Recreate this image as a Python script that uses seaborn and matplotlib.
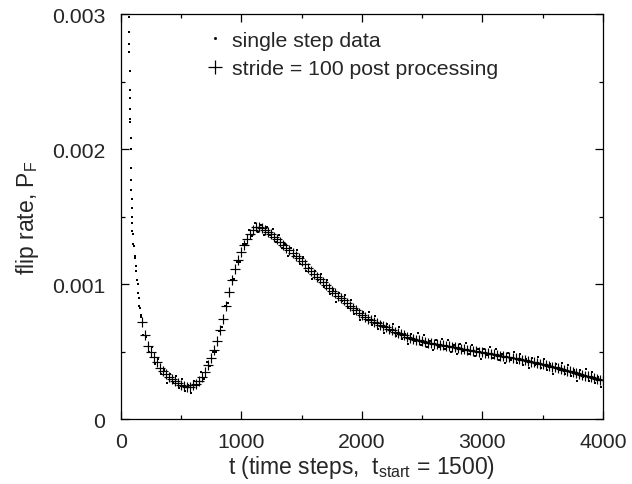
import numpy as np
import pandas as pd
import matplotlib
matplotlib.use("Agg")
import matplotlib.pyplot as plt
from matplotlib.lines import Line2D
import seaborn as sns

# flip rate values are written in units of 1e-4

# stride = 100 post processing, read every 25 steps
t_stride = list(range(175, 4001, 25))
pf_stride = [
    7.2, 6.2, 5.4, 4.95, 4.6, 4.2, 3.8,
    3.55, 3.3, 3.1, 2.95, 2.8, 2.65, 2.55, 2.45, 2.4, 2.4,
    2.5, 2.6, 2.8, 3.1, 3.5, 4.0, 4.5, 5.1, 5.8, 6.6,
    7.4, 8.4, 9.4, 10.3, 11.1, 11.8, 12.4, 12.9, 13.3, 13.7,
    14.0, 14.2, 14.2, 14.15, 14.0, 13.85, 13.7, 13.5, 13.3, 13.1,
    12.9, 12.7, 12.5, 12.3, 12.1, 11.9, 11.7, 11.45, 11.2, 10.95,
    10.75, 10.55, 10.35, 10.15, 9.95, 9.7, 9.5, 9.3, 9.1, 8.95,
    8.8, 8.6, 8.4, 8.25, 8.05, 7.85, 7.70, 7.57, 7.44, 7.32,
    7.20, 7.09, 6.98, 6.88, 6.78, 6.68, 6.58, 6.48, 6.38, 6.28,
    6.19, 6.10, 6.02, 5.95, 5.88, 5.82, 5.76, 5.71, 5.66, 5.61,
    5.57, 5.53, 5.49, 5.45, 5.42, 5.38, 5.34, 5.30, 5.26, 5.22,
    5.18, 5.14, 5.10, 5.06, 5.02, 4.98, 4.94, 4.90, 4.86, 4.82,
    4.78, 4.74, 4.70, 4.66, 4.62, 4.58, 4.53, 4.49, 4.44, 4.40,
    4.35, 4.30, 4.25, 4.20, 4.15, 4.10, 4.04, 3.99, 3.93, 3.88,
    3.82, 3.76, 3.70, 3.64, 3.58, 3.52, 3.46, 3.40, 3.34, 3.28,
    3.22, 3.16, 3.10, 3.04, 2.98, 2.92, 2.86,
]

# single step data: the sparse early points, then one dot between each stride point
t_single_early = [68, 70, 71, 72, 74, 76, 77, 78, 80, 81,
                  83, 84, 86, 88, 89, 90, 92, 94, 95, 97,
                  100, 105, 110, 115, 120, 125, 130, 135, 140, 145,
                  150, 155, 160, 165, 170]
pf_single_early = [29.8, 28.7, 27.8, 27.2, 25.8, 24.4, 23.8, 23.0, 22.2, 22.0,
                   20.8, 20.0, 18.6, 17.7, 17.0, 16.3, 15.6, 15.0, 14.5, 13.9,
                   13.7, 13.0, 12.8, 12.1, 11.9, 11.3, 11.0, 10.3, 10.0, 9.3,
                   9.0, 8.4, 8.2, 7.7, 7.55]
t_single_band = list(range(187, 4000, 25))
pf_single_band = [
    6.2, 6.1, 5.0, 5.3, 4.1, 4.45, 3.3,
    3.6, 2.7, 3.3, 2.7, 3.2, 2.3, 2.95, 2.1, 2.55, 1.95,
    2.85, 2.55, 3.45, 3.0, 4.2, 3.9, 4.95, 4.95, 6.5, 6.85,
    8.4, 8.6, 10.3, 10.35, 11.6, 11.6, 12.95, 12.95, 14.0, 13.55,
    14.55, 13.85, 14.35, 13.6, 14.25, 13.6, 14.1, 13.1, 13.65, 12.65,
    12.95, 12.1, 12.7, 12.05, 12.5, 11.5, 12.0, 11.0, 11.2, 10.35,
    10.95, 10.3, 10.75, 9.75, 10.3, 9.25, 9.55, 8.7, 9.3, 8.75,
    9.2, 8.2, 8.8, 7.8, 8.1, 7.3, 7.95, 7.35, 7.9, 6.95,
    7.6, 6.7, 7.1, 6.35, 7.05, 6.5, 7.05, 6.15, 6.8, 5.9,
    6.3, 5.55, 6.3, 5.75, 6.35, 5.5, 6.2, 5.35, 5.8, 5.1,
    5.85, 5.35, 5.95, 5.15, 5.85, 5.0, 5.45, 4.8, 5.55, 5.05,
    5.65, 4.8, 5.5, 4.7, 5.15, 4.45, 5.2, 4.75, 5.35, 4.5,
    5.2, 4.35, 4.85, 4.15, 4.9, 4.4, 5.0, 4.15, 4.85, 4.0,
    4.45, 3.75, 4.5, 4.0, 4.6, 3.75, 4.45, 3.6, 4.05, 3.35,
    4.1, 3.6, 4.15, 3.3, 4.0, 3.15, 3.6, 2.85, 3.6, 3.1,
    3.7, 2.85, 3.5, 2.65, 3.1, 2.4,
]

df_stride = pd.DataFrame({"t": t_stride, "pf": np.array(pf_stride) * 1e-4})
df_single = pd.DataFrame({"t": t_single_early + t_single_band,
                          "pf": np.array(pf_single_early + pf_single_band) * 1e-4})

sns.set_style("ticks")
plt.rcParams["font.family"] = ["Liberation Sans", "DejaVu Sans"]
plt.rcParams["mathtext.default"] = "regular"

fig = plt.figure(figsize=(6.32, 4.85), dpi=100)
ax = fig.add_axes([0.191, 0.134, 0.763, 0.835])

sns.scatterplot(data=df_stride, x="t", y="pf", marker="+", s=45, color="black",
                linewidth=0.85, ax=ax, legend=False)
sns.scatterplot(data=df_single, x="t", y="pf", marker="s", s=2.5, color="black",
                linewidth=0, ax=ax, legend=False)

ax.set_xlim(0, 4000)
ax.set_ylim(0, 0.003)
ax.set_xticks([0, 1000, 2000, 3000, 4000])
ax.set_xticks(np.arange(500, 4000, 1000), minor=True)
ax.set_yticks([0, 0.001, 0.002, 0.003])
ax.set_yticklabels(["0", "0.001", "0.002", "0.003"])
ax.set_yticks([0.0005, 0.0015, 0.0025], minor=True)
ax.tick_params(which="both", direction="in", top=True, right=True,
               labelsize=15.3, color="black", width=0.9)
ax.tick_params(which="major", length=6)
ax.tick_params(which="minor", length=3)
ax.tick_params(axis="x", which="major", pad=9)
ax.tick_params(axis="y", which="major", pad=11)
for s in ax.spines.values():
    s.set_color("black")
    s.set_linewidth(0.9)

ax.set_xlabel("t (time steps,  t$_{start}$ = 1500)", fontsize=16.5, labelpad=2)
ax.set_ylabel("flip rate, P$_F$", fontsize=16.5, labelpad=8)

handles = [
    Line2D([], [], marker="s", markersize=1.0, color="black", linestyle=""),
    Line2D([], [], marker="+", markersize=10, color="black", linestyle="",
           markeredgewidth=0.9),
]
ax.legend(handles, ["single step data", "stride = 100 post processing"],
          loc="upper left", bbox_to_anchor=(0.142, 0.995), frameon=False,
          fontsize=15.3, handlelength=1.0, handletextpad=0.3, labelspacing=0.45,
          borderaxespad=0.3)

fig.savefig("out.png", dpi=100)
